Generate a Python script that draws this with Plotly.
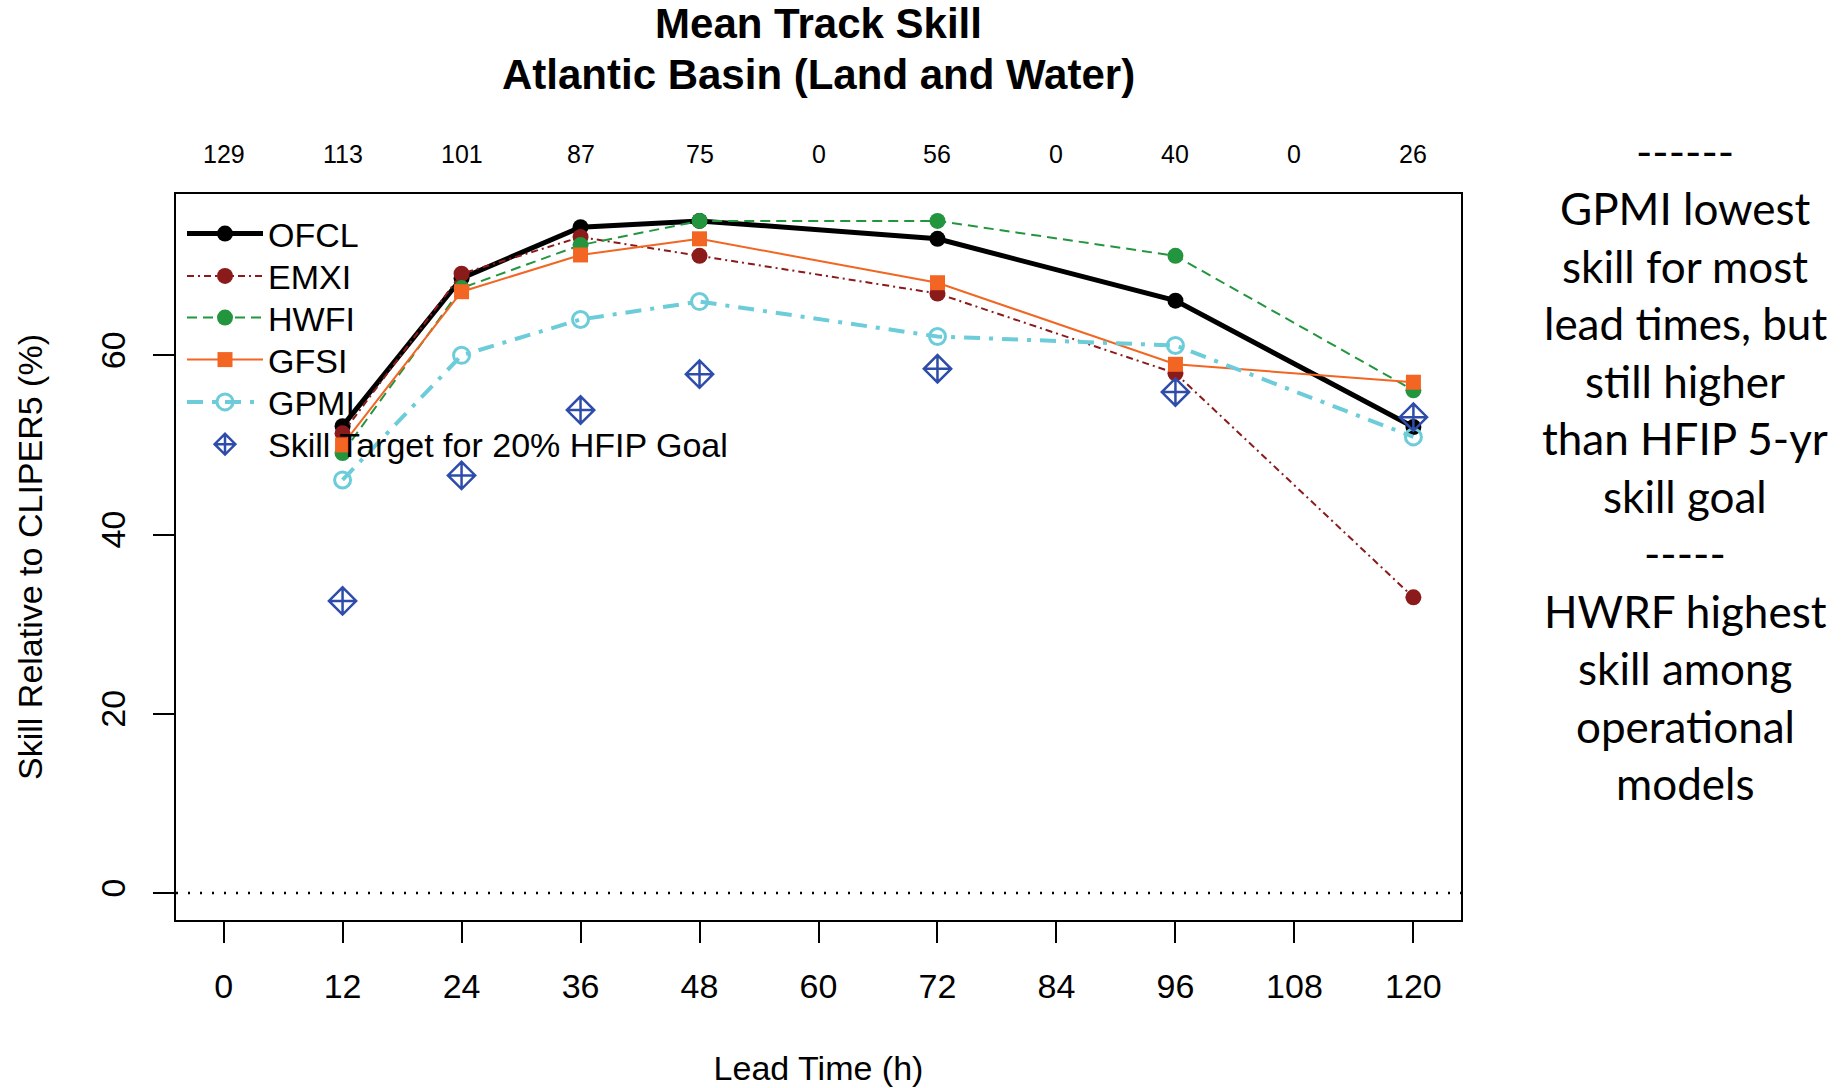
import plotly.graph_objects as go

# ---------------- data ----------------
lead_times = [12, 24, 36, 48, 72, 96, 120]
ofcl = [52.1, 68.6, 74.3, 75.0, 73.0, 66.1, 52.0]
emxi = [51.3, 69.1, 73.2, 71.1, 66.9, 58.0, 33.0]
hwfi = [49.1, 67.5, 72.3, 75.0, 75.0, 71.1, 56.1]
gfsi = [50.0, 67.1, 71.2, 73.0, 68.1, 59.0, 57.0]
gpmi = [46.1, 60.0, 64.0, 66.0, 62.1, 61.1, 50.9]
target = [32.6, 46.6, 53.9, 57.9, 58.5, 55.9, 53.1]

count_times = [0, 12, 24, 36, 48, 60, 72, 84, 96, 108, 120]
counts = ["129", "113", "101", "87", "75", "0", "56", "0", "40", "0", "26"]

x_ticks = [0, 12, 24, 36, 48, 60, 72, 84, 96, 108, 120]
y_ticks = [0, 20, 40, 60]

title_line1 = "Mean Track Skill"
title_line2 = "Atlantic Basin (Land and Water)"

note_lines = ["------", "GPMI lowest", "skill for most", "lead times, but",
              "still higher", "than HFIP 5-yr", "skill goal", "-----",
              "HWRF highest", "skill among", "operational", "models"]

# ---------------- figure ----------------
FONT = "Liberation Sans, Arial, sans-serif"
W, H = 1844, 1088
PLOT_L, PLOT_R, PLOT_T, PLOT_B = 176, 1461, 194, 920
PLOT_H = PLOT_B - PLOT_T

fig = go.Figure()

series = [
    dict(x=lead_times, y=ofcl, name="OFCL", mode="lines+markers",
         line=dict(color="black", width=5),
         marker=dict(symbol="circle", size=16, color="black")),
    dict(x=lead_times, y=emxi, name="EMXI", mode="lines+markers",
         line=dict(color="#8B1A1A", width=2, dash="7px,4px,2px,4px"),
         marker=dict(symbol="circle", size=16, color="#8B1A1A")),
    dict(x=lead_times, y=hwfi, name="HWFI", mode="lines+markers",
         line=dict(color="#23953F", width=2, dash="10px,6px"),
         marker=dict(symbol="circle", size=16, color="#23953F")),
    dict(x=lead_times, y=gfsi, name="GFSI", mode="lines+markers",
         line=dict(color="#F26522", width=2),
         marker=dict(symbol="square", size=15, color="#F26522")),
    dict(x=lead_times, y=gpmi, name="GPMI", mode="lines+markers",
         line=dict(color="#6CCCD9", width=4, dash="16px,9px,4px,9px"),
         marker=dict(symbol="circle-open", size=16, color="#6CCCD9",
                     line=dict(width=3, color="#6CCCD9"))),
    dict(x=lead_times, y=target, name="Skill Target for 20% HFIP Goal", mode="markers",
         marker=dict(symbol="diamond-cross-open", size=21, color="#2E4DAA",
                     line=dict(width=2.5, color="#2E4DAA"))),
]

legend_rows = [234, 276.3, 318, 360, 402.3, 444.6]  # row centres (px from top)
legends = {}
for i, s in enumerate(series):
    key = "legend" if i == 0 else f"legend{i + 1}"
    fig.add_trace(go.Scatter(legend=key, **s))
    legends[key] = dict(x=(182 - PLOT_L) / (PLOT_R - PLOT_L), xanchor="left",
                        y=(PLOT_B - legend_rows[i]) / PLOT_H, yanchor="middle",
                        bgcolor="rgba(0,0,0,0)", borderwidth=0,
                        font=dict(family=FONT, size=34, color="black"),
                        itemwidth=76)

# zero reference line
fig.add_hline(y=0, line=dict(color="black", width=2.5, dash="2px,10px"))

# counts along top
for t, c in zip(count_times, counts):
    fig.add_annotation(x=t, y=1, xref="x", yref="paper", text=c, showarrow=False,
                       yanchor="middle", yshift=40,
                       font=dict(family=FONT, size=25, color="black"))

# title second line (placed in pixels above the plot area)
fig.add_annotation(x=0.5, y=1, xref="paper", yref="paper",
                   text=f"<b>{title_line2}</b>", showarrow=False,
                   xanchor="center", yanchor="middle", yshift=PLOT_T - 74,
                   font=dict(family=FONT, size=42, color="black"))

# right-side note
for i, line in enumerate(note_lines):
    fig.add_annotation(x=1, y=1, xref="paper", yref="paper", text=line, showarrow=False,
                       xanchor="center", yanchor="middle", xshift=224,
                       yshift=PLOT_T - (166.8 + 57.5 * i) + 16,
                       font=dict(family="Lato, Carlito, sans-serif", size=44, color="black"))

fig.update_layout(
    width=W, height=H,
    margin=dict(l=PLOT_L, r=W - PLOT_R, t=PLOT_T, b=H - PLOT_B, autoexpand=False),
    paper_bgcolor="white", plot_bgcolor="white",
    title=dict(text=f"<b>{title_line1}</b>",
               x=(PLOT_L + PLOT_R) / 2 / W, xanchor="center",
               y=1 - 23.5 / H, yanchor="middle", yref="container",
               font=dict(family=FONT, size=42, color="black")),
    font=dict(family=FONT, size=34, color="black"),
    showlegend=True,
    **legends,
)

fig.update_xaxes(range=[-4.8, 124.8], tickvals=x_ticks, ticks="outside", ticklen=21,
                 tickwidth=2, tickcolor="black", showline=True, linecolor="black",
                 linewidth=2, mirror=True, showgrid=False, zeroline=False,
                 ticklabelstandoff=14,
                 tickfont=dict(family=FONT, size=34),
                 title=dict(text="Lead Time (h)", standoff=52,
                            font=dict(family=FONT, size=34)))
fig.update_yaxes(range=[-3, 78], tickvals=y_ticks, ticks="outside", ticklen=21,
                 tickwidth=2, tickcolor="black", showline=True, linecolor="black",
                 linewidth=2, mirror=True, showgrid=False, zeroline=False,
                 tickangle=-90, ticklabelstandoff=14,
                 tickfont=dict(family=FONT, size=34),
                 title=dict(text="Skill Relative to CLIPER5 (%)", standoff=42,
                            font=dict(family=FONT, size=34)))

fig.write_html("out.html")
